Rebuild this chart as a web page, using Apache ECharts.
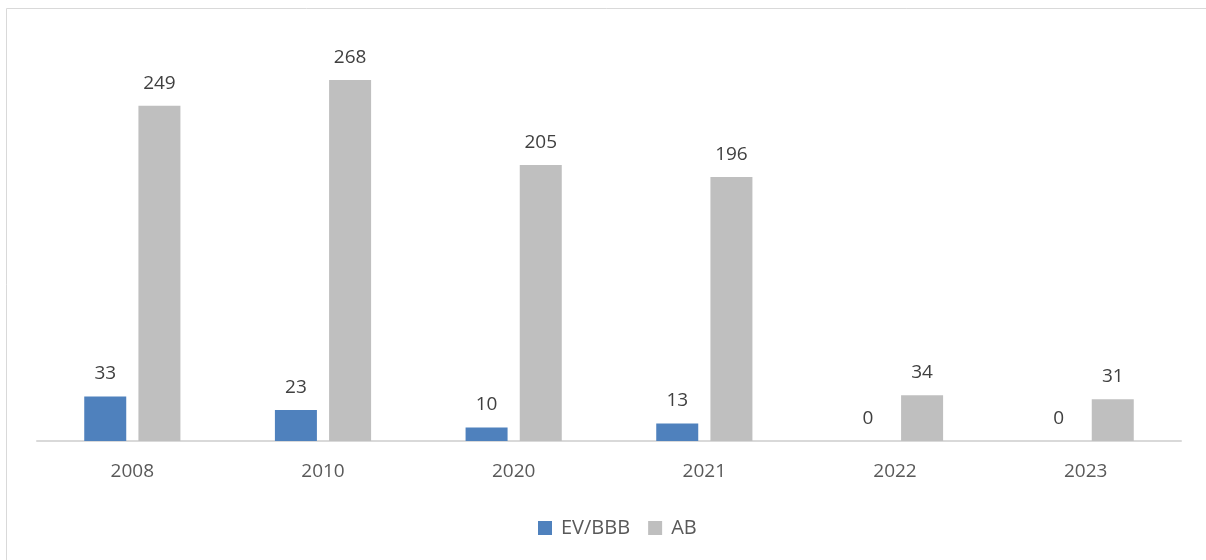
<!DOCTYPE html>
<html>
<head>
    <meta charset="UTF-8">
    <title>bar</title>
    <script src="https://cdn.jsdelivr.net/npm/echarts@6/dist/echarts.min.js"></script>
    <style>
        *{margin:0;padding:0}
        html,body{width:100%;height:100%;background:#fff}
        #main{width:1206px;height:560px}
    </style>
</head>
<body>
    <div id="main"></div>
    <script type="text/javascript">
        var years = ['2008', '2010', '2020', '2021', '2022', '2023'];
        var evBBB = [33, 23, 10, 13, 0, 0];
        var ab = [249, 268, 205, 196, 34, 31];

        var myChart = echarts.init(document.getElementById('main'));
        var font = '"Open Sans", "Noto Sans", sans-serif';
        var labelStyle = {
            show: true,
            position: 'top',
            distance: 13,
            fontSize: 19,
            color: '#404040',
            fontFamily: font
        };
        var option = {
            animation: false,
            // chart border, only top and left edges are inside the picture
            graphic: [
                {
                    type: 'line',
                    shape: {x1: 6.5, y1: 8.5, x2: 1206, y2: 8.5},
                    style: {stroke: '#d9d9d9', lineWidth: 1},
                    silent: true
                },
                {
                    type: 'line',
                    shape: {x1: 6.5, y1: 8.5, x2: 6.5, y2: 560},
                    style: {stroke: '#d9d9d9', lineWidth: 1},
                    silent: true
                }
            ],
            grid: {left: 37, right: 25, top: 37, bottom: 119},
            legend: {
                left: 533,
                top: 513,
                itemWidth: 14,
                itemHeight: 14,
                itemGap: 18,
                icon: 'rect',
                textStyle: {fontSize: 20, color: '#595959', fontFamily: font, padding: [0, 0, 0, 4]},
                data: ['EV/BBB', 'AB']
            },
            xAxis: {
                type: 'category',
                data: years,
                axisLine: {lineStyle: {color: '#d9d9d9', width: 2}},
                axisTick: {show: false},
                axisLabel: {fontSize: 19, color: '#595959', fontFamily: font, margin: 21}
            },
            yAxis: {
                type: 'value',
                min: 0,
                max: 300,
                show: false,
                splitLine: {show: false}
            },
            series: [
                {
                    name: 'EV/BBB',
                    type: 'bar',
                    data: evBBB,
                    barWidth: 42,
                    barGap: '29%',
                    itemStyle: {color: '#4f81bd'},
                    label: labelStyle
                },
                {
                    name: 'AB',
                    type: 'bar',
                    data: ab,
                    barWidth: 42,
                    itemStyle: {color: '#bfbfbf'},
                    label: labelStyle
                }
            ]
        };
        myChart.setOption(option);
    </script>
</body>
</html>
